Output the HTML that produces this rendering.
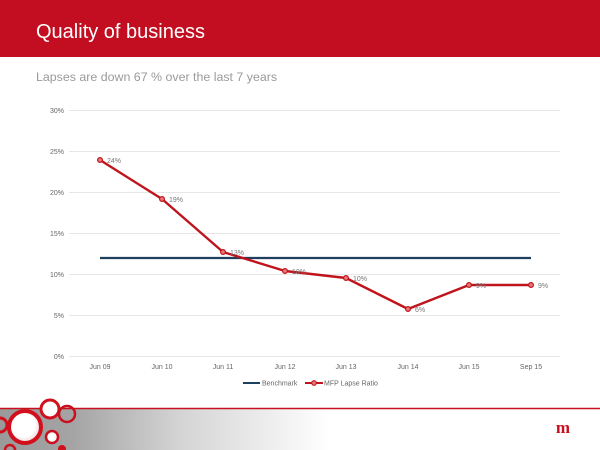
<!DOCTYPE html>
<html><head><meta charset="utf-8"><style>
html,body{margin:0;padding:0;background:#fff;}
svg{display:block;}
</style></head><body>
<svg width="600" height="450" viewBox="0 0 600 450" xmlns="http://www.w3.org/2000/svg" font-family="Liberation Sans, sans-serif">
<defs>
<linearGradient id="fg" x1="0" y1="0" x2="1" y2="0">
<stop offset="0" stop-color="#9a9a9a"/>
<stop offset="0.12" stop-color="#a4a4a4"/>
<stop offset="0.3" stop-color="#d4d4d4"/>
<stop offset="0.55" stop-color="#ffffff"/>
<stop offset="1" stop-color="#ffffff"/>
</linearGradient>
<radialGradient id="wc" cx="0.45" cy="0.45" r="0.6">
<stop offset="0.6" stop-color="#ffffff"/>
<stop offset="1" stop-color="#e8c8c8"/>
</radialGradient>
</defs>
<!-- header -->
<rect x="0" y="0" width="600" height="57" fill="#c20e20"/>
<text x="36" y="38" font-size="20" fill="#ffffff">Quality of business</text>
<text x="36" y="81" font-size="12.4" fill="#9a9a9a">Lapses are down 67 % over the last 7 years</text>

<!-- gridlines -->
<g stroke="#e6e6e6" stroke-width="1">
<line x1="69" y1="110.5" x2="560" y2="110.5"/>
<line x1="69" y1="151.5" x2="560" y2="151.5"/>
<line x1="69" y1="192.5" x2="560" y2="192.5"/>
<line x1="69" y1="233.5" x2="560" y2="233.5"/>
<line x1="69" y1="274.5" x2="560" y2="274.5"/>
<line x1="69" y1="315.5" x2="560" y2="315.5"/>
<line x1="69" y1="356.5" x2="560" y2="356.5"/>
</g>
<g font-size="7" fill="#666" text-anchor="end">
<text x="64" y="113">30%</text>
<text x="64" y="154">25%</text>
<text x="64" y="195">20%</text>
<text x="64" y="236">15%</text>
<text x="64" y="277">10%</text>
<text x="64" y="318">5%</text>
<text x="64" y="359">0%</text>
</g>
<g font-size="7" fill="#666" text-anchor="middle">
<text x="100" y="369">Jun 09</text>
<text x="162" y="369">Jun 10</text>
<text x="223" y="369">Jun 11</text>
<text x="285" y="369">Jun 12</text>
<text x="346" y="369">Jun 13</text>
<text x="408" y="369">Jun 14</text>
<text x="469" y="369">Jun 15</text>
<text x="531" y="369">Sep 15</text>
</g>
<!-- benchmark -->
<line x1="100" y1="258" x2="531" y2="258" stroke="#1f3f5f" stroke-width="2.2"/>
<!-- MFP series -->
<polyline points="100,160 162,199 223,252 285,271 346,278 408,309 469,285 531,285" fill="none" stroke="#c0141c" stroke-width="2.4" stroke-linejoin="round"/>
<g fill="#e87a7a" stroke="#c0141c" stroke-width="1.2">
<circle cx="100" cy="160" r="2.4"/>
<circle cx="162" cy="199" r="2.4"/>
<circle cx="223" cy="252" r="2.4"/>
<circle cx="285" cy="271" r="2.4"/>
<circle cx="346" cy="278" r="2.4"/>
<circle cx="408" cy="309" r="2.4"/>
<circle cx="469" cy="285" r="2.4"/>
<circle cx="531" cy="285" r="2.4"/>
</g>
<g font-size="7" fill="#777">
<text x="107" y="163">24%</text>
<text x="169" y="202">19%</text>
<text x="230" y="255">13%</text>
<text x="292" y="274">10%</text>
<text x="353" y="281">10%</text>
<text x="415" y="312">6%</text>
<text x="476" y="288">9%</text>
<text x="538" y="288">9%</text>
</g>
<!-- legend -->
<line x1="243" y1="383" x2="260" y2="383" stroke="#1f3f5f" stroke-width="2"/>
<text x="262" y="385.5" font-size="7" fill="#666">Benchmark</text>
<line x1="305" y1="383" x2="323" y2="383" stroke="#c0141c" stroke-width="2"/>
<circle cx="314" cy="383" r="2.3" fill="#e87a7a" stroke="#c0141c" stroke-width="1.1"/>
<text x="324" y="385.5" font-size="7" fill="#666">MFP Lapse Ratio</text>

<!-- footer -->
<rect x="0" y="409" width="600" height="41" fill="url(#fg)"/>
<line x1="0" y1="408.5" x2="600" y2="408.5" stroke="#c8101e" stroke-width="1.6"/>
<!-- decorative circles -->
<circle cx="50" cy="409" r="9" fill="#ffffff" stroke="#d0101c" stroke-width="3"/>
<circle cx="67" cy="414" r="8" fill="none" stroke="#c8101e" stroke-width="2.5"/>
<circle cx="0" cy="425" r="7" fill="none" stroke="#d0101c" stroke-width="3"/>
<circle cx="25" cy="427" r="16" fill="url(#wc)" stroke="#d2101c" stroke-width="4"/>
<circle cx="52" cy="437" r="6" fill="#ffffff" stroke="#c8101e" stroke-width="2.5"/>
<circle cx="62" cy="449" r="4" fill="#d0101c"/>
<circle cx="10" cy="450" r="5" fill="none" stroke="#d0101c" stroke-width="2.5"/>
<!-- logo -->
<text x="563" y="433" font-size="17" font-weight="bold" font-family="Liberation Serif, serif" fill="#c8101e" text-anchor="middle">m</text>
</svg>
</body></html>
